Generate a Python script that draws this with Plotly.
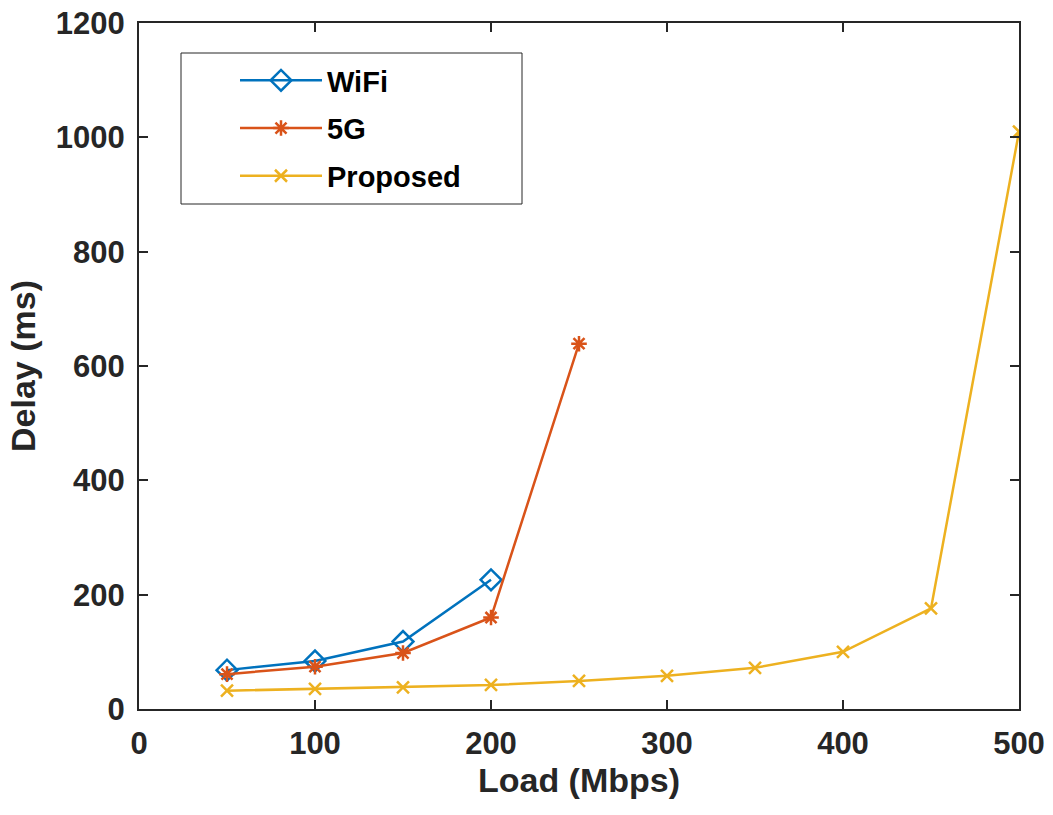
import plotly.graph_objects as go

load = [50, 100, 150, 200, 250, 300, 350, 400, 450, 500]
wifi_x = [50, 100, 150, 200]
wifi_delay = [68, 84, 118, 226]
g5_x = [50, 100, 150, 200, 250]
g5_delay = [61, 74, 98, 160, 639]
proposed_delay = [32, 35, 38, 42, 49, 58, 72, 100, 176, 1010]

x_ticks = [0, 100, 200, 300, 400, 500]
y_ticks = [0, 200, 400, 600, 800, 1000, 1200]

C_WIFI = "#0072BD"
C_5G = "#D95319"
C_PROP = "#EDB120"
AX = "#262626"
FONT = "Liberation Sans, Arial, Helvetica, sans-serif"

fig = go.Figure()
fig.add_trace(go.Scatter(
    x=wifi_x, y=wifi_delay, name="WiFi", mode="lines+markers",
    line=dict(color=C_WIFI, width=2.5),
    marker=dict(symbol="diamond-open", size=16, color=C_WIFI, line=dict(width=2.5, color=C_WIFI)),
    legendgroup="a"))
fig.add_trace(go.Scatter(
    x=g5_x, y=g5_delay, name="5G", mode="lines+markers",
    line=dict(color=C_5G, width=2.5),
    marker=dict(symbol="asterisk-open", size=13, color=C_5G, line=dict(width=2.5, color=C_5G)),
    legendgroup="b"))
fig.add_trace(go.Scatter(
    x=load, y=proposed_delay, name="Proposed", mode="lines+markers",
    line=dict(color=C_PROP, width=2.5),
    marker=dict(symbol="x-thin-open", size=12, color=C_PROP, line=dict(width=2.5, color=C_PROP)),
    legendgroup="c"))

L, R, T, B = 139, 34, 23, 106
W, H = 1053, 815
pw, ph = W - L - R, H - T - B

def px(xp):
    return (xp - L) / pw

def py(yp):
    return (H - B - yp) / ph

fig.add_shape(type="rect", xref="paper", yref="paper",
              x0=px(181), x1=px(522), y0=py(204), y1=py(53),
              line=dict(color=AX, width=1), fillcolor="white", layer="above")

fig.update_layout(
    width=W, height=H,
    margin=dict(l=L, r=R, t=T, b=B, autoexpand=False),
    plot_bgcolor="white", paper_bgcolor="white",
    font=dict(family=FONT, color=AX),
    showlegend=True,
    legend=dict(
        x=px(235), y=py(55), xanchor="left", yanchor="top",
        bgcolor="rgba(0,0,0,0)", borderwidth=0,
        font=dict(family=FONT, size=29, color="black", weight="bold"),
        itemwidth=82, tracegroupgap=7,
    ),
    xaxis=dict(
        range=[0, 500], tickvals=x_ticks, ticktext=[str(v) for v in x_ticks],
        automargin=False,
        showgrid=False, zeroline=False, showline=True, linecolor=AX, linewidth=2,
        mirror="allticks", ticks="inside", ticklen=9, tickwidth=2, tickcolor=AX,
        ticklabelstandoff=6,
        tickfont=dict(family=FONT, size=31, color=AX, weight="bold"),
        title=dict(text="Load (Mbps)", font=dict(family=FONT, size=34, color=AX, weight="bold"), standoff=6),
    ),
    yaxis=dict(
        range=[0, 1200], tickvals=y_ticks, ticktext=[str(v) for v in y_ticks],
        automargin=False,
        showgrid=False, zeroline=False, showline=True, linecolor=AX, linewidth=2,
        mirror="allticks", ticks="inside", ticklen=9, tickwidth=2, tickcolor=AX,
        ticklabelstandoff=6,
        tickfont=dict(family=FONT, size=31, color=AX, weight="bold"),
        title=dict(text="Delay (ms)", font=dict(family=FONT, size=34, color=AX, weight="bold"), standoff=10),
    ),
)

fig.write_html("out.html")
